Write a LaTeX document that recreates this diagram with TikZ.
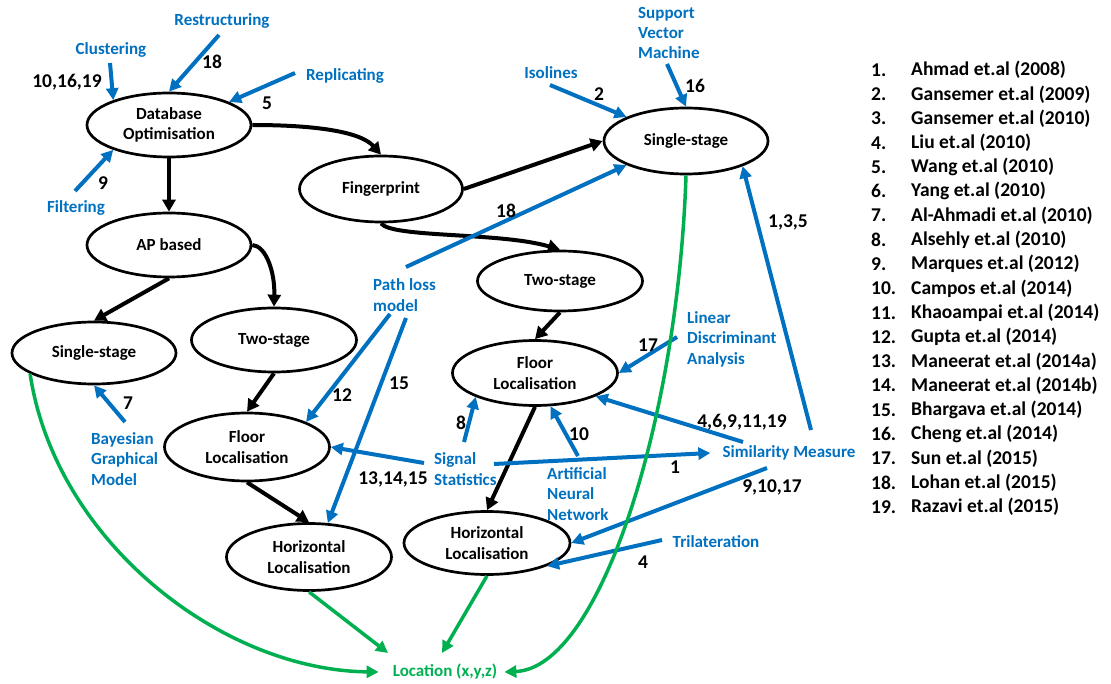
\documentclass[tikz,border=0pt]{standalone}
\usepackage{fontspec}
\setmainfont{Carlito}
\usetikzlibrary{arrows.meta,shapes.geometric,calc}
\definecolor{methodblue}{RGB}{0,112,192}
\definecolor{resultgreen}{RGB}{0,176,80}
\newcommand\dgtext{\fontsize{17}{20.4}\selectfont\bfseries}
\newcommand\dgnum{\fontsize{19.5}{23}\selectfont\bfseries}
\begin{document}
\begin{tikzpicture}[x=1pt,y=-1pt,
  stage/.style={ellipse,draw,line width=2.7pt,inner sep=0pt,align=center,font=\dgtext},
  method/.style={text=methodblue,font=\dgtext,inner sep=1pt,align=left},
  refno/.style={font=\dgnum,inner sep=0pt},
  legend/.style={font=\dgnum,inner sep=0pt,anchor=west},
  flow/.style={draw=black,line width=4pt,-{Triangle[length=12pt,width=13pt]}},
  link/.style={draw=methodblue,line width=4pt,-{Triangle[length=12pt,width=12pt]}},
  final/.style={draw=resultgreen,line width=3.5pt,-{Triangle[length=12pt,width=12pt]}}
]
\useasboundingbox (0,0) rectangle (1111,684);

% stages of the taxonomy
\node[stage,minimum width=164pt,minimum height=64pt] (dbo) at (169,125) {Database\\Optimisation};
\node[stage,minimum width=163pt,minimum height=66pt] (fp)  at (381,189) {Fingerprint};
\node[stage,minimum width=164pt,minimum height=66pt] (ssR) at (686,141) {Single-stage};
\node[stage,minimum width=164pt,minimum height=64pt] (ap)  at (169,245) {AP based};
\node[stage,minimum width=164pt,minimum height=62pt] (ssL) at (94,353)  {Single-stage};
\node[stage,minimum width=165pt,minimum height=64pt] (tsL) at (274,340) {Two-stage};
\node[stage,minimum width=165pt,minimum height=68pt] (flL) at (247,447) {Floor\\Localisation};
\node[stage,minimum width=165pt,minimum height=67pt] (hlL) at (309,557) {Horizontal\\Localisation};
\node[stage,minimum width=165pt,minimum height=60pt] (tsR) at (560,281) {Two-stage};
\node[stage,minimum width=165pt,minimum height=65pt] (flR) at (535,373) {Floor\\Localisation};
\node[stage,minimum width=166pt,minimum height=63pt] (hlR) at (487,543) {Horizontal\\Localisation};

% methods
\node[method] (clu) at (111,50) {Clustering};
\node[method] (res) at (222,21) {Restructuring};
\node[method] (rep) at (345,76) {Replicating};
\node[method] (fil) at (76,208) {Filtering};
\node[method] (iso) at (551,73) {Isolines};
\node[method,anchor=west] (svm) at (637,33) {Support\\Vector\\Machine};
\node[method,anchor=west] (plm) at (372,295) {Path loss\\model};
\node[method,anchor=west] (bgm) at (90,459) {Bayesian\\Graphical\\Model};
\node[method,anchor=west] (sig) at (433,469) {Signal\\Statistics};
\node[method,anchor=west] (ann) at (546,494) {Artificial\\Neural\\Network};
\node[method,anchor=west] (lda) at (686,339) {Linear\\Discriminant\\Analysis};
\node[method] (sim) at (789,453) {Similarity Measure};
\node[method] (tri) at (716,542) {Trilateration};
\node[method,text=resultgreen] (loc) at (445,672) {Location (x,y,z)};

% taxonomy flow
\draw[flow] (dbo.east) .. controls (312,125) and (360,131) .. (fp.north);
\draw[flow] (dbo.south) -- (ap.north);
\draw[flow] (ap.east) .. controls (266,246) and (275,272) .. (tsL.north);
\draw[flow] (ap.south) -- (ssL.north);
\draw[flow] (tsL.south) -- (flL.north);
\draw[flow] (flL.south) -- (hlL.north);
\draw[flow] (fp.east) -- (ssR.west);
\draw[flow] (fp.south) .. controls (392,238) and (500,232) .. (tsR.north);
\draw[flow] (tsR.south) -- (flR.north);
\draw[flow] (flR.south) -- (hlR.north);

% start points of the method arrows
\coordinate (cluS) at (110,63);
\coordinate (resS) at (219,35);
\coordinate (repS) at (295,73);
\coordinate (filS) at (75,191);
\coordinate (isoS) at (550,85);
\coordinate (svmS) at (667,64);
\coordinate (plmA) at (406,267);
\coordinate (plmB) at (390,314);
\coordinate (plmC) at (406,318);
\coordinate (bgmS) at (125,422);
\coordinate (sigA) at (424,463);
\coordinate (sigB) at (464,442);
\coordinate (sigC) at (494,464);
\coordinate (annS) at (578,456);
\coordinate (ldaS) at (677,337);
\coordinate (simA) at (743,442);
\coordinate (simB) at (811,430);
\coordinate (simC) at (767,468);
\coordinate (triS) at (662,540);

% method arrows
\draw[link] (cluS) -- (dbo.156);
\draw[link] (resS) -- (dbo.north);
\draw[link] (repS) -- (dbo.21);
\draw[link] (filS) -- (dbo.204);
\draw[link] (isoS) -- (ssR.158);
\draw[link] (svmS) -- (ssR.north);
\draw[link] (plmA) -- (ssR.202);
\draw[link] (plmB) -- (flL.23);
\draw[link] (plmC) -- (hlL.61);
\draw[link] (bgmS) -- (ssL.south);
\draw[link] (sigA) -- (flL.east);
\draw[link] (sigB) -- (flR.202);
\draw[link] (sigC) -- ([xshift=-11pt]sim.west);
\draw[link] (annS) -- (flR.-65);
\draw[link] (ldaS) -- (flR.east);
\draw[link] (simA) -- (flR.-21);
\draw[link] (simB) -- (ssR.-24);
\draw[link] (simC) -- (hlR.east);
\draw[link] (triS) -- (hlR.-21);

% paths to the final location
\draw[final] (ssL.198) .. controls (55,540) and (220,670) .. ($(loc.west)+(-13,0)$);
\draw[final] (ssR.south) .. controls (678,420) and (600,668) .. ($(loc.east)+(6,0)$);
\draw[final] (hlL.south) -- ($(loc.center)+(-57,-19)$);
\draw[final] (hlR.south) -- ($(loc.center)+(-3,-19)$);

% reference numbers
\node[refno] (r1)  at (67,82)   {10,16,19};
\node[refno] (r2)  at (212,62)  {18};
\node[refno] (r3)  at (267,103) {5};
\node[refno] (r4)  at (103,183) {9};
\node[refno] (r5)  at (599,94)  {2};
\node[refno] (r6)  at (695,86)  {16};
\node[refno] (r7)  at (506,211) {18};
\node[refno] (r8)  at (788,222) {1,3,5};
\node[refno] (r9)  at (648,345) {17};
\node[refno] (r10) at (342,395) {12};
\node[refno] (r11) at (399,383) {15};
\node[refno] (r12) at (128,403) {7};
\node[refno] (r13) at (461,423) {8};
\node[refno] (r14) at (579,434) {10};
\node[refno] (r15) at (742,422) {4,6,9,11,19};
\node[refno] (r16) at (393,479) {13,14,15};
\node[refno] (r17) at (675,467) {1};
\node[refno] (r18) at (772,487) {9,10,17};
\node[refno] (r19) at (643,562) {4};

% list of references
\foreach \i/\who in {1/Ahmad et.al (2008),2/Gansemer et.al (2009),3/Gansemer et.al (2010),
  4/Liu et.al (2010),5/Wang et.al (2010),6/Yang et.al (2010),7/Al-Ahmadi et.al (2010),
  8/Alsehly et.al (2010),9/Marques et.al (2012),10/Campos et.al (2014),
  11/Khaoampai et.al (2014),12/Gupta et.al (2014),13/Maneerat et.al (2014a),
  14/Maneerat et.al (2014b),15/Bhargava et.al (2014),16/Cheng et.al (2014),
  17/Sun et.al (2015),18/Lohan et.al (2015),19/Razavi et.al (2015)} {
  \node[legend] (num-\i) at (871,{70+24.28*(\i-1)}) {\i.};
  \node[legend] (ref-\i) at (911,{70+24.28*(\i-1)}) {\who};
}
\end{tikzpicture}
\end{document}
